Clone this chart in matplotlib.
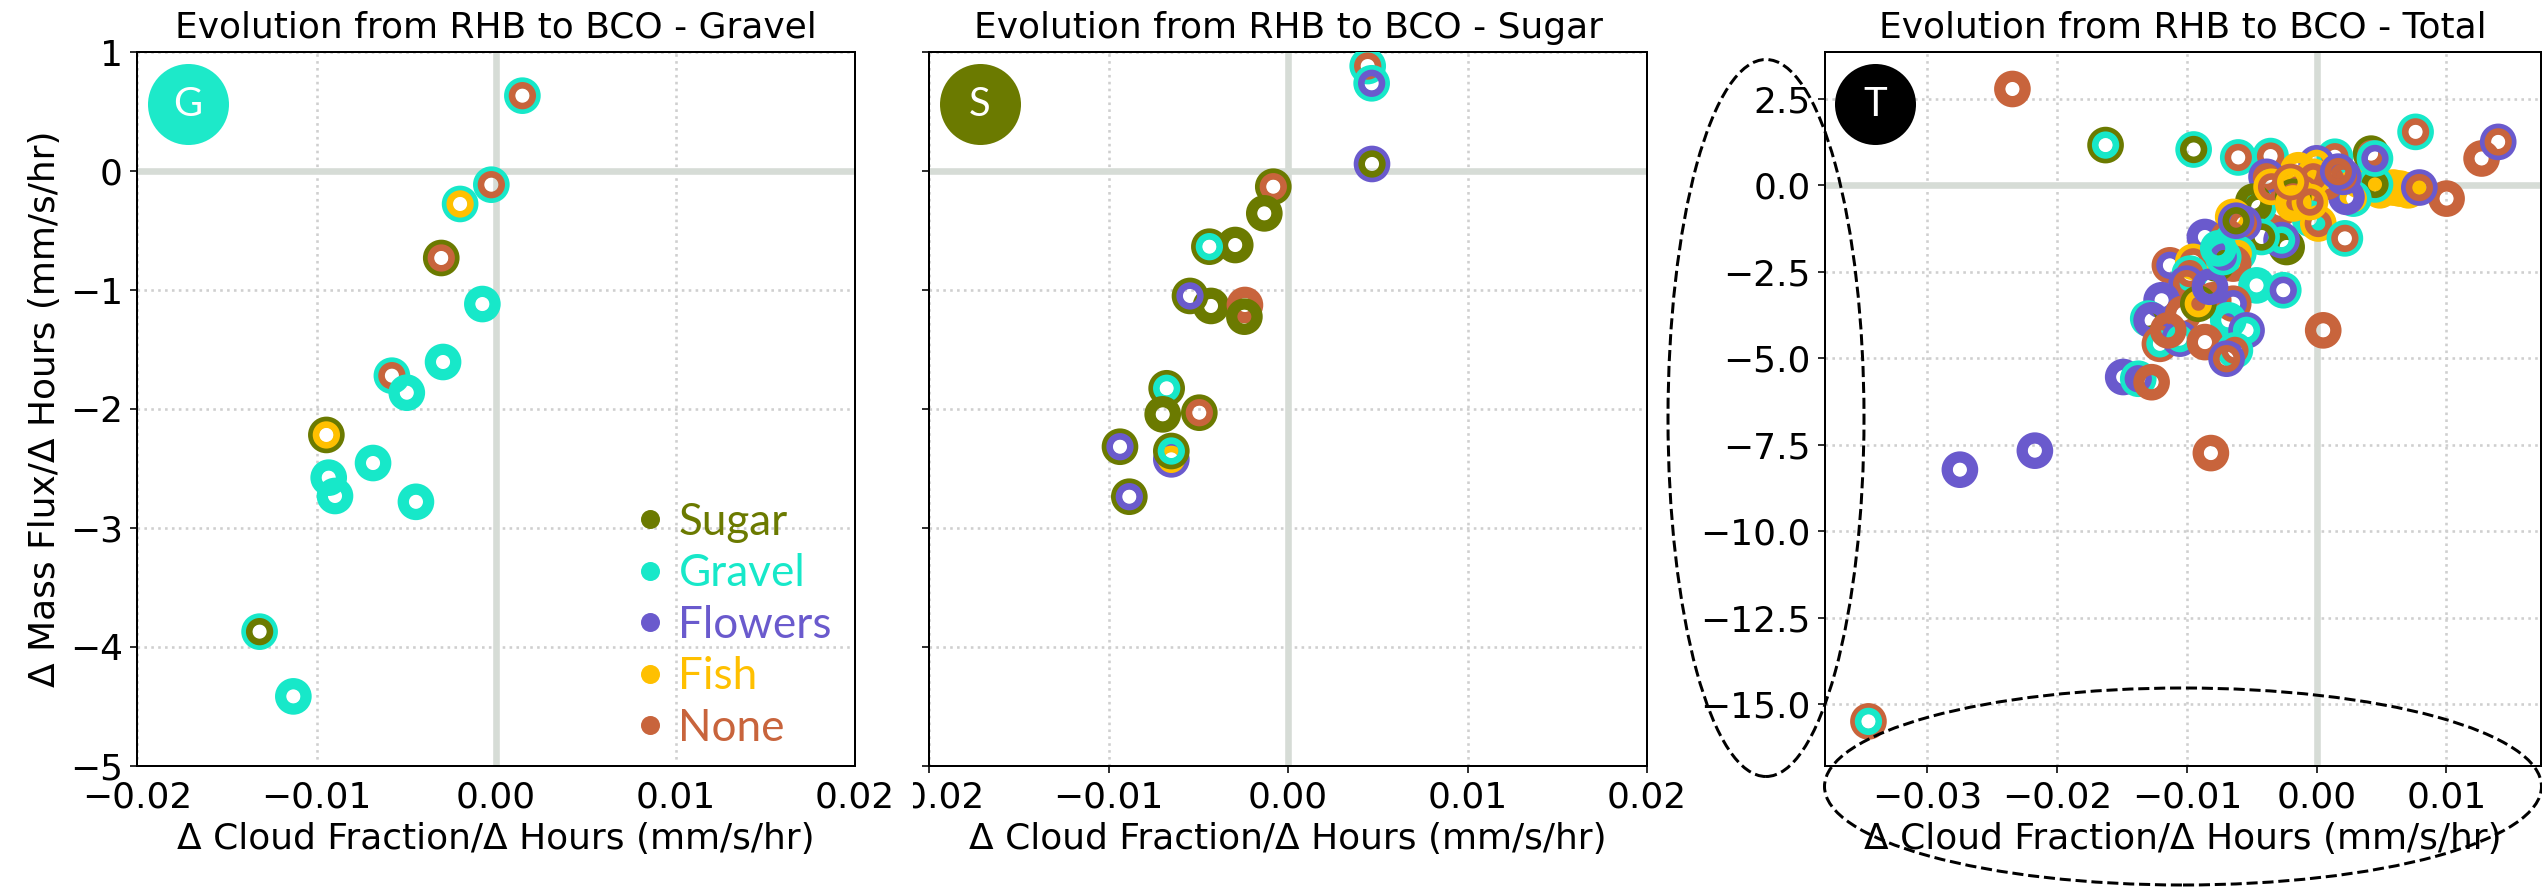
import numpy as np
import matplotlib
matplotlib.use('Agg')
import matplotlib.pyplot as plt
from matplotlib.patches import Ellipse
from matplotlib.lines import Line2D

# class colours
classes = ['Sugar', 'Gravel', 'Flowers', 'Fish', 'None']
class_colors = {'Sugar': '#6B7A00', 'Gravel': '#17E8C9', 'Flowers': '#6A5ACD',
                'Fish': '#FFC000', 'None': '#C8643C'}

# panel 1 - Gravel
g_dcf = [0.00147, -0.00026, -0.0020, -0.00305, -0.00076, -0.00295, -0.0058, -0.00497,
         -0.00945, -0.00932, -0.00897, -0.00685, -0.00446, -0.01317, -0.01129]
g_dmf = [0.633, -0.115, -0.277, -0.731, -1.118, -1.605, -1.72, -1.863,
         -2.218, -2.577, -2.731, -2.454, -2.78, -3.871, -4.415]
g_outer = ['Gravel', 'Gravel', 'Gravel', 'Sugar', 'Gravel', 'Gravel', 'Gravel', 'Gravel',
           'Sugar', 'Gravel', 'Gravel', 'Gravel', 'Gravel', 'Gravel', 'Gravel']
g_inner = ['None', 'None', 'Fish', 'None', 'Gravel', 'Gravel', 'None', 'Gravel',
           'Fish', 'Gravel', 'Gravel', 'Gravel', 'Gravel', 'Sugar', 'Gravel']

# panel 2 - Sugar
s_dcf = [0.00444, 0.00466, 0.00468, -0.00082, -0.00132, -0.00294, -0.00438, -0.00429,
         -0.00546, -0.0024, -0.00243, -0.00676, -0.00698, -0.00494, -0.00936, -0.0065,
         -0.0065, -0.00884]
s_dmf = [0.882, 0.737, 0.059, -0.132, -0.356, -0.622, -0.636, -1.134,
         -1.05, -1.126, -1.224, -1.826, -2.045, -2.031, -2.317, -2.423,
         -2.353, -2.737]
s_outer = ['Gravel', 'Gravel', 'Flowers', 'Sugar', 'Sugar', 'Sugar', 'Sugar', 'Sugar',
           'Sugar', 'None', 'Sugar', 'Sugar', 'Sugar', 'Sugar', 'Sugar', 'Flowers',
           'Sugar', 'Sugar']
s_inner = ['None', 'Flowers', 'Sugar', 'None', 'Sugar', 'Sugar', 'Gravel', 'Sugar',
           'Flowers', 'None', 'Sugar', 'Gravel', 'Sugar', 'None', 'Flowers', 'Fish',
           'Gravel', 'Flowers']

# panel 3 - Total
t_dcf = [-0.02345, -0.01627, -0.00948, -0.02750, -0.02172, -0.00815, -0.03455, -0.00604,
         -0.00355, 0.00763, 0.01272, 0.01400, 0.01002, 0.00643, 0.00488, 0.00591,
         0.00707, 0.00792, 0.00334, 0.00450, 0.00420, 0.00450, 0.00283, 0.00230,
         0.00141, 0.00000, 0.00077, 0.00206, -0.00141, -0.00026, -0.00386, -0.00116,
         -0.00283, -0.00450, -0.00488, -0.00643, -0.00051, 0.00013, 0.00218, -0.00231,
         -0.00270, -0.00424, -0.00861, -0.00681, -0.00565, -0.00604, -0.00643, -0.00771,
         -0.01131, -0.00951, -0.00977, -0.01002, -0.00463, -0.00257, -0.01195, -0.01298,
         -0.01272, -0.01028, -0.00797, -0.00643, -0.00681, -0.00540, -0.01208, -0.01054,
         -0.00861, -0.00630, -0.00694, -0.01491, -0.01375, -0.01272, 0.00051, -0.00912,
         -0.00822, -0.01144, -0.00347, -0.00180, -0.00720, -0.00758, -0.00180, -0.00051,
         0.00167, -0.00200, -0.00620]
t_dmf = [2.79, 1.168, 1.04, -8.22, -7.67, -7.74, -15.5, 0.81,
         0.85, 1.55, 0.78, 1.26, -0.38, -0.09, -0.14, -0.06,
         -0.14, -0.06, 0.15, 0.03, 0.92, 0.78, -0.38, -0.33,
         0.83, 0.64, 0.11, 0.25, 0.44, 0.25, 0.25, -0.23,
         -0.67, -0.62, -0.47, -0.91, -0.96, -1.10, -1.53, -1.78,
         -1.58, -1.49, -1.49, -1.53, -1.10, -1.97, -2.26, -2.26,
         -2.31, -2.21, -2.55, -2.84, -2.89, -3.03, -3.32, -3.85,
         -3.90, -3.71, -3.32, -3.42, -3.90, -4.19, -4.58, -4.43,
         -4.53, -4.77, -5.01, -5.54, -5.59, -5.69, -4.19, -3.42,
         -2.93, -4.19, -0.04, -0.33, -2.07, -1.82, -0.52, -0.48,
         0.40, 0.10, -1.02]
t_outer = ['None', 'Sugar', 'Gravel', 'Flowers', 'Flowers', 'None', 'None', 'Gravel',
           'Gravel', 'Gravel', 'None', 'Flowers', 'None', 'Fish', 'Fish', 'Fish',
           'Fish', 'Flowers', 'Fish', 'Gravel', 'Sugar', 'Gravel', 'Gravel', 'Flowers',
           'Gravel', 'Flowers', 'None', 'Flowers', 'Fish', 'Fish', 'Flowers', 'None',
           'None', 'Gravel', 'Sugar', 'Fish', 'Gravel', 'Fish', 'Gravel', 'Sugar',
           'Flowers', 'Gravel', 'Flowers', 'None', 'Flowers', 'Gravel', 'None', 'Sugar',
           'None', 'Fish', 'Gravel', 'Flowers', 'Gravel', 'Gravel', 'Flowers', 'Gravel',
           'Flowers', 'None', 'None', 'None', 'Gravel', 'Flowers', 'None', 'Flowers',
           'None', 'Gravel', 'Flowers', 'Flowers', 'Gravel', 'None', 'None', 'Sugar',
           'Flowers', 'None', 'Fish', 'Sugar', 'Gravel', 'Gravel', 'Fish', 'Fish',
           'Flowers', 'None', 'Flowers']
t_inner = ['None', 'Gravel', 'Sugar', 'Flowers', 'Flowers', 'None', 'Gravel', 'None',
           'None', 'None', 'None', 'None', 'None', 'Fish', 'Fish', 'Fish',
           'Fish', 'None', 'Fish', 'Sugar', 'None', 'Flowers', 'Fish', 'Flowers',
           'None', 'Fish', 'None', 'None', 'Fish', 'None', 'None', 'Fish',
           'None', 'Sugar', 'Sugar', 'Fish', 'Gravel', 'None', 'None', 'Sugar',
           'Gravel', 'Sugar', 'Flowers', 'Gravel', 'None', 'Fish', 'None', 'Sugar',
           'Flowers', 'None', 'None', 'None', 'Gravel', 'Flowers', 'Flowers', 'Sugar',
           'Flowers', 'None', 'None', 'Flowers', 'Gravel', 'Gravel', 'Gravel', 'Gravel',
           'None', 'None', 'None', 'Flowers', 'Flowers', 'None', 'None', 'Fish',
           'Flowers', 'None', 'None', 'None', 'Flowers', 'Gravel', 'Fish', 'None',
           'None', 'Fish', 'Sugar']

FS = 18
ZERO_COLOR = '#D6DCD6'


def draw_rings(ax, xs, ys, outer, inner):
    # outer ring = first class, inner ring = second class
    for x, y, o, i in zip(xs, ys, outer, inner):
        ax.scatter(x, y, s=167, facecolors='none', edgecolors=class_colors[o],
                   linewidths=5.4, zorder=3)
        ax.scatter(x, y, s=107, facecolors='none', edgecolors=class_colors[i],
                   linewidths=3.3, zorder=3)


def style_axis(ax, title, letter, badge_color):
    ax.axhline(0, color=ZERO_COLOR, lw=3.3, zorder=1)
    ax.axvline(0, color=ZERO_COLOR, lw=3.3, zorder=1)
    ax.grid(True, linestyle=':', color='#cfcfcf', lw=1.3, zorder=0)
    ax.set_axisbelow(True)
    ax.set_title(title, fontsize=FS, pad=7)
    ax.set_xlabel('Δ Cloud Fraction/Δ Hours (mm/s/hr)', fontsize=FS)
    ax.tick_params(labelsize=FS)
    for sp in ax.spines.values():
        sp.set_linewidth(1.0)
    # badge in the upper left corner
    ax.scatter([0.0705], [0.9265], s=1560, color=badge_color, transform=ax.transAxes,
               zorder=5, clip_on=False)
    ax.text(0.0705, 0.9265, letter, transform=ax.transAxes, ha='center', va='center',
            color='white', fontsize=20, family='Lato', zorder=6)


fig = plt.figure(figsize=(2542 / 144, 888 / 144), dpi=144)
W, H = 2542, 888
ax1 = fig.add_axes([137 / W, 122 / H, 718 / W, 714 / H])
ax2 = fig.add_axes([929 / W, 122 / H, 718 / W, 714 / H], sharey=ax1)
ax3 = fig.add_axes([1825 / W, 122 / H, 716 / W, 714 / H])
ax1.set_zorder(2)

# gravel
draw_rings(ax1, g_dcf, g_dmf, g_outer, g_inner)
style_axis(ax1, 'Evolution from RHB to BCO - Gravel', 'G', '#1DE9C9')
ax1.set_xlim(-0.02, 0.02)
ax1.set_ylim(-5, 1)
ax1.set_xticks([-0.02, -0.01, 0.0, 0.01, 0.02])
ax1.set_yticks(np.arange(-5, 2, 1))
ax1.set_ylabel('Δ Mass Flux/Δ Hours (mm/s/hr)', fontsize=FS)
for lab in ax1.get_xticklabels():
    lab.set_bbox(dict(boxstyle='square,pad=0.5', facecolor='white', edgecolor='none'))

handles = [Line2D([], [], linestyle='none', marker='o', markersize=8.5,
                  color=class_colors[c]) for c in classes]
leg = ax1.legend(handles, classes, loc='lower left', bbox_to_anchor=(0.699, 0.024),
                 frameon=False, borderpad=0, borderaxespad=0, handlelength=0.5,
                 handletextpad=0.4, labelspacing=0.24,
                 prop={'family': 'Lato', 'size': 22})
for txt, c in zip(leg.get_texts(), classes):
    txt.set_color(class_colors[c])

# sugar
draw_rings(ax2, s_dcf, s_dmf, s_outer, s_inner)
style_axis(ax2, 'Evolution from RHB to BCO - Sugar', 'S', '#6B7A00')
ax2.set_xlim(-0.02, 0.02)
ax2.set_xticks([-0.02, -0.01, 0.0, 0.01, 0.02])
ax2.tick_params(labelleft=False)

# total
draw_rings(ax3, t_dcf, t_dmf, t_outer, t_inner)
style_axis(ax3, 'Evolution from RHB to BCO - Total', 'T', 'black')
ax3.set_xlim(-0.0379, 0.0173)
ax3.set_ylim(-16.79, 3.86)
ax3.set_xticks([-0.03, -0.02, -0.01, 0.0, 0.01])
ax3.set_yticks(np.arange(-15, 3, 2.5))

# dashed ellipses highlighting the outliers
for cx, cy, w, h in [(1766, 418, 196, 717), (2183, 786.5, 717, 197)]:
    fig.add_artist(Ellipse((cx / W, 1 - cy / H), w / W, h / H, transform=fig.transFigure,
                           fill=False, edgecolor='black', linestyle='--', lw=1.5,
                           zorder=10, clip_on=False))

fig.savefig('out.png', dpi=144)
